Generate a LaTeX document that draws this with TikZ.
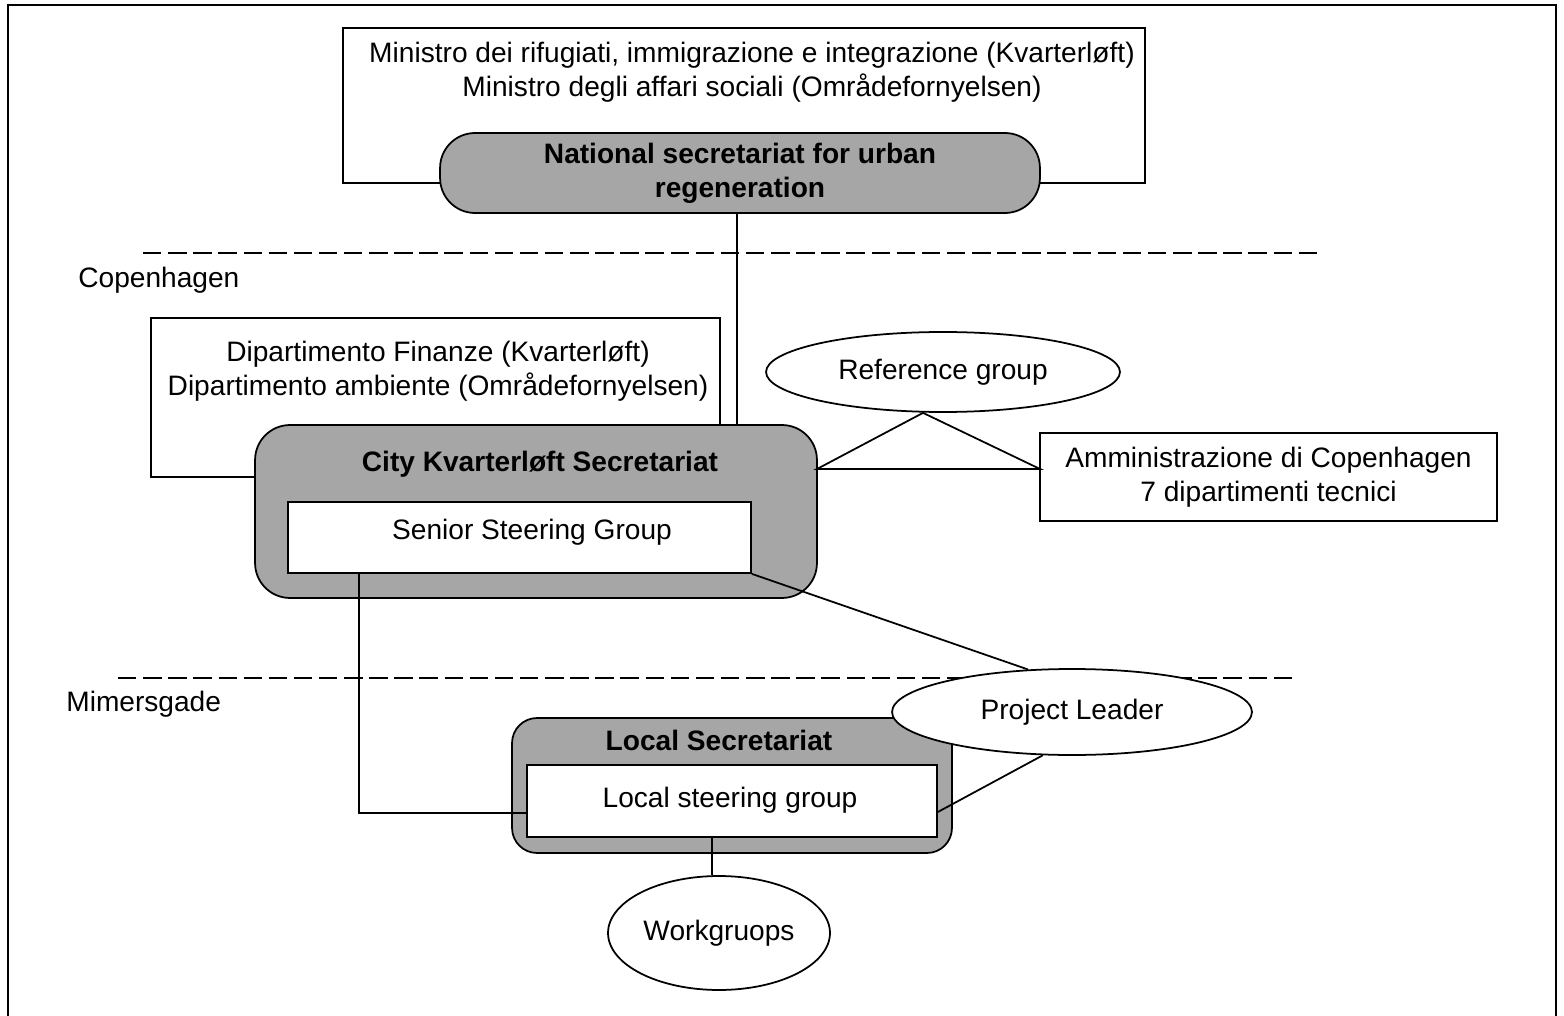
\documentclass[tikz,border=0pt]{standalone}
\usepackage{fontspec}
\setmainfont{Liberation Sans}
\usepackage{tikz}
\usetikzlibrary{positioning}
\usetikzlibrary{shapes,shapes.geometric}
\tikzstyle{novertex} = [draw=none, fill=none, text centered, align=center, inner sep=0pt]
\tikzstyle{plainbox} = [rectangle, draw, fill=white, line width=1pt]
\tikzstyle{greybox} = [rectangle, draw, fill=gray!70, line width=1pt, rounded corners=0.7cm]
\tikzstyle{oval} = [ellipse, draw, fill=white, line width=1pt, inner sep=0pt, text centered]
\tikzstyle{link} = [draw, line width=1pt]
\tikzstyle{border} = [draw, dash pattern=on 10.5pt off 3.8pt, line width=1pt]

\begin{document}
\begin{tikzpicture}[x=0.02cm, y=-0.02cm, font=\fontsize{16}{19.4}\selectfont]
	\useasboundingbox (0,0) rectangle (1564,1016);
	% frame
	\draw [line width=1pt] (8,1016) -- (8,5) -- (1556,5) -- (1556,1016);

	% national level
	\node [plainbox, minimum width=16.04cm, minimum height=3.1cm] (MIN) at (744,105.5) {};
	\node [novertex] (MINT) at (752,72) {Ministro dei rifugiati, immigrazione e integrazione (Kvarterløft)\\Ministro degli affari sociali (Områdefornyelsen)};
	\node [greybox, minimum width=12cm, minimum height=1.6cm, font=\fontsize{16}{19.4}\selectfont\bfseries, align=center] (NAT) at (740,173) {National secretariat for urban\\regeneration};

	% level borders
	\path [border] (143,253) -- (1322,253);
	\path [border] (118,678) -- (1298,678);
	\node [novertex, anchor=west] (CPH) at (78,280) {Copenhagen};
	\node [novertex, anchor=west] (MIM) at (66,704) {Mimersgade};

	% city level
	\node [plainbox, minimum width=11.38cm, minimum height=3.18cm] (DIP) at (435.5,397.5) {};
	\node [novertex] (DIPT) at (438,371) {Dipartimento Finanze (Kvarterløft)\\Dipartimento ambiente (Områdefornyelsen)};
	\node [greybox, minimum width=11.24cm, minimum height=3.46cm] (CITY) at (536,511.5) {};
	\node [novertex, font=\fontsize{16}{19.4}\selectfont\bfseries] (CITYT) at (540,464) {City Kvarterløft Secretariat};
	\node [plainbox, minimum width=9.26cm, minimum height=1.42cm] (SSG) at (519.5,537.5) {};
	\node [novertex] (SSGT) at (532,532) {Senior Steering Group};
	\node [oval, minimum width=7.08cm, minimum height=1.6cm] (REF) at (943,372) {Reference group};
	\node [plainbox, minimum width=9.14cm, minimum height=1.76cm, align=center] (ADM) at (1268.5,477) {Amministrazione di Copenhagen\\7 dipartimenti tecnici};

	% local level
	\node [greybox, rounded corners=0.5cm, minimum width=8.8cm, minimum height=2.7cm] (LOC) at (732,785.5) {};
	\node [novertex, font=\fontsize{16}{19.4}\selectfont\bfseries] (LOCT) at (719,740) {Local Secretariat};
	\node [plainbox, minimum width=8.2cm, minimum height=1.44cm] (LSG) at (732,801) {};
	\node [novertex] (LSGT) at (730,800) {Local steering group};
	\node [oval, minimum width=7.2cm, minimum height=1.72cm] (PL) at (1072,712) {Project Leader};
	\node [oval, minimum width=4.44cm, minimum height=2.28cm] (WG) at (719,933) {Workgruops};

	% junctions
	\coordinate (JL) at (817,469);
	\coordinate (JR) at (1040,469);

	% draw edges
	\path [link] ([xshift=-0.06cm]NAT.south) -- ([xshift=-0.06cm]NAT.south |- CITY.north);
	\path [link] ([xshift=-0.4cm]REF.south) -- (JL) -- (JR) -- cycle;
	\path [link] (SSG.south east) -- (PL.136);
	\path [link] ([xshift=1.44cm]SSG.south west) |- ([yshift=-0.24cm]LSG.west);
	\path [link] (PL.236) -- ([yshift=-0.22cm]LSG.east);
	\path [link] ([xshift=-0.14cm]WG.north) -- ([xshift=-0.14cm]WG.north |- LSG.south);
\end{tikzpicture}
\end{document}
